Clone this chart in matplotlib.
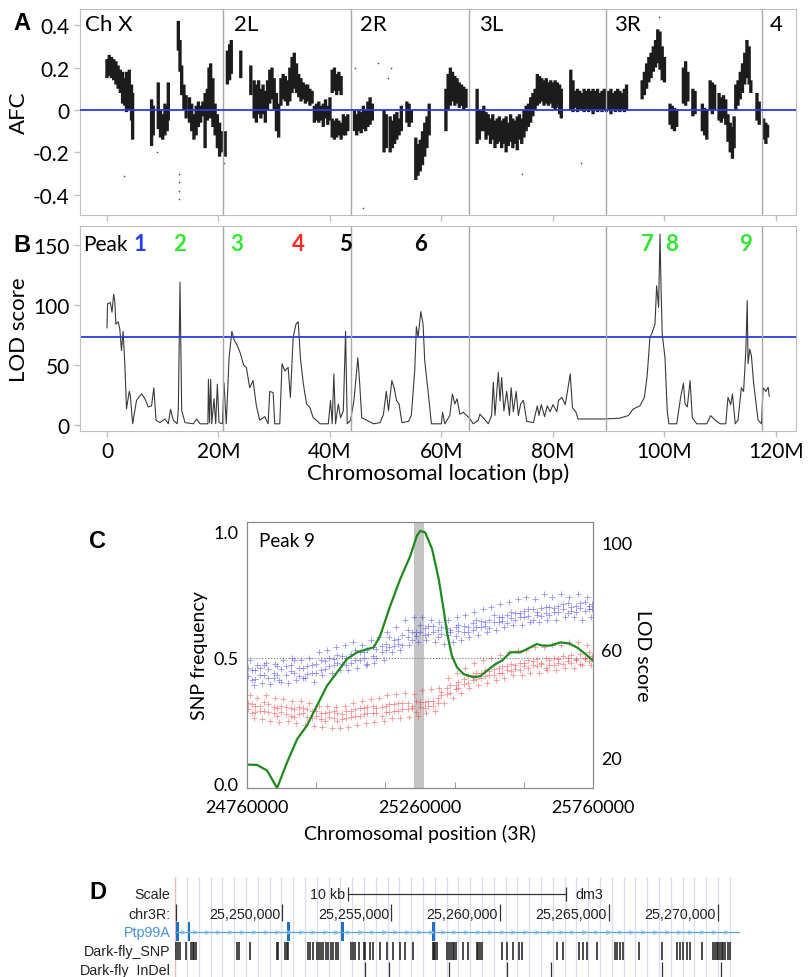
import numpy as np
import matplotlib.pyplot as plt
from matplotlib.transforms import blended_transform_factory

plt.rcParams['font.family'] = ['Lato', 'DejaVu Sans']

# ---------------- Panel A: allele frequency change (position in Mb, AFC range) ----------------
afc_pos = [0.0, 0.4, 0.8, 1.2, 1.6, 2.0, 2.4, 2.8, 3.2, 3.5, 4.0, 4.4, 4.6, 8.0, 8.3, 9.2, 9.6, 10.0, 10.4, 10.8,
           11.0, 12.8, 13.1, 13.4, 13.8, 14.2, 14.8, 15.2, 15.6, 16.0, 16.4, 16.8, 17.2, 17.6, 18.0, 18.3, 18.6,
           19.0, 19.4, 19.8, 20.2, 20.5,
           21.2, 21.6, 22.0, 22.3, 24.0, 25.8, 26.4, 26.8, 27.2, 27.6, 28.0, 28.4, 28.8, 29.2, 29.6, 30.0, 30.4,
           30.8, 31.2, 31.6, 32.0, 32.4, 32.8, 33.2, 33.6, 34.0, 34.4, 34.8, 35.2, 35.6, 36.0, 36.4, 36.8, 37.2,
           37.6, 38.0, 38.4, 38.8, 39.2, 39.6, 40.0, 40.4, 40.4, 40.8, 40.8, 41.2, 41.2, 41.6, 41.6, 42.0, 42.0,
           42.4, 42.8, 43.2,
           44.4, 44.8, 45.2, 45.6, 46.0, 46.4, 46.8, 47.2, 47.6, 49.7, 50.1, 50.8, 51.2, 51.6, 52.0, 52.4, 52.8,
           53.8, 54.2, 54.6, 55.4, 55.8, 56.2, 56.6, 57.0, 57.4, 57.8, 60.8, 61.2, 61.6, 62.0, 62.4, 62.8, 63.2,
           63.6, 64.0, 64.4,
           66.4, 66.8, 67.2, 67.6, 68.0, 68.4, 68.8, 69.2, 69.6, 70.0, 70.4, 70.8, 71.2, 71.6, 72.0, 72.4, 72.8,
           73.2, 73.6, 74.0, 74.4, 74.8, 75.2, 75.6, 76.0, 76.4, 76.8, 77.2, 77.6, 78.0, 78.4, 78.8, 79.2, 79.6,
           80.0, 80.4, 80.8, 81.2, 81.5, 83.2, 83.6, 84.0, 84.4, 84.8, 85.2, 85.6, 86.0, 86.4, 86.8, 87.2, 87.6,
           88.0, 88.4, 88.8, 89.2,
           89.6, 90.0, 90.4, 90.8, 91.2, 91.6, 92.0, 92.4, 92.8, 93.2, 96.0, 96.4, 96.8, 97.2, 97.6, 98.0, 98.4,
           98.8, 99.2, 99.6, 100.0, 101.0, 101.4, 101.8, 102.2, 103.4, 103.8, 104.2, 105.1, 105.5, 106.8, 107.2,
           107.6, 108.2, 108.6, 109.0, 109.8, 110.2, 110.6, 111.0, 111.4, 111.8, 112.2, 112.5, 112.8, 113.2,
           113.6, 114.0, 114.4, 114.8, 115.2, 115.5, 116.6, 117.0,
           117.8, 118.2, 118.5]
afc_lo = [0.15, 0.16, 0.15, 0.14, 0.12, 0.10, 0.08, 0.03, 0.02, -0.01, 0.0, -0.05, -0.14, -0.17, -0.12, -0.09,
          -0.13, -0.14, -0.12, -0.10, -0.05, 0.28, 0.18, 0.07, 0.0, -0.04, -0.06, -0.10, -0.14, -0.12, -0.08,
          -0.06, -0.03, -0.18, -0.05, 0.0, -0.04, -0.08, -0.12, -0.18, -0.22, -0.20,
          -0.22, 0.12, 0.14, 0.17, 0.15, 0.07, -0.04, -0.06, -0.02, -0.04, -0.02, -0.06, 0.0, 0.03, 0.05, 0.0,
          -0.10, -0.13, 0.02, 0.05, 0.04, 0.02, 0.04, 0.08, 0.10, 0.08, 0.06, 0.04, 0.05, 0.03, 0.04, 0.02,
          0.03, -0.06, -0.05, -0.06, -0.05, -0.08, -0.04, -0.07, -0.05, 0.08, -0.13, 0.09, -0.14, 0.07, -0.13,
          0.09, -0.12, 0.07, -0.14, -0.12, -0.12, -0.10,
          -0.10, -0.12, -0.10, -0.11, -0.09, -0.10, -0.08, -0.07, -0.05, -0.20, -0.18, -0.20, -0.18, -0.16,
          -0.14, -0.12, -0.10, -0.06, -0.08, -0.06, -0.33, -0.31, -0.29, -0.26, -0.22, -0.18, -0.12, -0.10,
          0.0, 0.02, 0.04, 0.02, 0.03, 0.01, 0.02, 0.0, 0.01,
          -0.16, -0.14, -0.10, -0.10, -0.14, -0.12, -0.16, -0.14, -0.18, -0.16, -0.15, -0.18, -0.16, -0.20,
          -0.17, -0.15, -0.18, -0.16, -0.19, -0.14, -0.16, -0.13, -0.10, -0.08, -0.06, -0.03, 0.0, 0.02, 0.03,
          0.04, 0.02, 0.03, 0.02, 0.03, 0.01, 0.0, 0.01, -0.02, -0.04, 0.0, -0.01, 0.01, -0.01, 0.0, 0.0, -0.01,
          0.0, -0.01, 0.0, -0.02, 0.0, -0.01, 0.0, -0.01, 0.0,
          -0.01, 0.0, -0.02, 0.0, -0.01, 0.0, -0.01, 0.0, -0.01, 0.0, 0.05, 0.07, 0.10, 0.13, 0.15, 0.18, 0.20,
          0.22, 0.19, 0.14, 0.13, -0.07, -0.09, -0.10, -0.08, 0.03, 0.02, 0.04, -0.03, -0.02, -0.10, -0.12,
          -0.14, 0.0, -0.02, 0.0, -0.05, -0.06, -0.04, -0.07, -0.15, -0.20, -0.23, -0.18, 0.0, 0.02, 0.05,
          0.08, 0.12, 0.15, 0.12, 0.08, -0.05, -0.07,
          -0.14, -0.16, -0.13]
afc_hi = [0.24, 0.26, 0.25, 0.24, 0.23, 0.21, 0.19, 0.18, 0.15, 0.18, 0.19, 0.12, 0.08, 0.05, 0.02, 0.13, 0.0,
          -0.02, 0.03, 0.02, 0.13, 0.42, 0.33, 0.21, 0.12, 0.07, 0.06, 0.03, -0.02, 0.02, 0.04, 0.02, 0.04,
          0.08, 0.10, 0.20, 0.22, 0.15, 0.03, -0.02, -0.06, -0.10,
          -0.10, 0.28, 0.31, 0.33, 0.28, 0.21, 0.14, 0.12, 0.14, 0.10, 0.12, 0.09, 0.14, 0.19, 0.20, 0.15,
          0.08, 0.03, 0.15, 0.17, 0.16, 0.14, 0.20, 0.25, 0.27, 0.22, 0.17, 0.15, 0.13, 0.12, 0.12, 0.10, 0.09,
          0.02, 0.03, 0.04, 0.02, 0.03, 0.05, 0.02, 0.06, 0.19, -0.04, 0.20, -0.05, 0.17, -0.04, 0.18, -0.05,
          0.16, -0.06, -0.02, -0.03, -0.02,
          0.0, -0.02, 0.0, -0.01, 0.02, 0.0, 0.04, 0.06, 0.03, 0.0, -0.02, -0.03, -0.05, -0.02, -0.01, -0.04,
          0.02, 0.04, 0.03, 0.0, -0.13, -0.16, -0.14, -0.10, -0.06, -0.03, 0.03, 0.10, 0.17, 0.20, 0.18, 0.16,
          0.15, 0.13, 0.12, 0.11, 0.10,
          0.10, 0.0, 0.0, 0.02, -0.01, -0.02, -0.04, -0.02, -0.05, -0.04, -0.03, -0.05, -0.04, -0.03, -0.06,
          -0.02, -0.04, -0.05, -0.03, -0.02, -0.04, 0.0, 0.02, 0.03, 0.06, 0.08, 0.10, 0.17, 0.16, 0.15, 0.14,
          0.15, 0.13, 0.14, 0.13, 0.14, 0.13, 0.12, 0.10, 0.19, 0.14, 0.09, 0.10, 0.09, 0.08, 0.10, 0.09, 0.10,
          0.09, 0.10, 0.09, 0.10, 0.08, 0.09, 0.10,
          0.09, 0.09, 0.10, 0.08, 0.09, 0.10, 0.09, 0.08, 0.10, 0.12, 0.14, 0.18, 0.22, 0.25, 0.27, 0.30, 0.33,
          0.38, 0.37, 0.30, 0.25, 0.03, 0.02, 0.01, 0.0, 0.20, 0.23, 0.18, 0.10, 0.09, 0.03, 0.01, 0.0, 0.14,
          0.13, 0.12, 0.08, 0.06, 0.07, 0.05, -0.02, -0.06, -0.08, -0.03, 0.12, 0.14, 0.18, 0.22, 0.27, 0.33,
          0.30, 0.14, 0.08, 0.04,
          -0.04, -0.06, -0.07]
afc_dot_x = [3.1, 8.9, 12.9, 12.9, 12.9, 12.95, 21.0, 44.5, 46.0, 48.7, 50.5, 51.0, 74.5, 85.0, 99.0]
afc_dot_y = [-0.31, -0.20, -0.30, -0.34, -0.38, -0.42, -0.25, 0.20, -0.46, 0.22, 0.15, 0.20, -0.30, -0.25, 0.44]

chrom_bounds = [20.75, 43.8, 65.0, 89.5, 117.5]
chrom_names = ['Ch X', '2L', '2R', '3L', '3R', '4']
chrom_label_x = [-3.9, 22.8, 45.4, 66.8, 91.0, 118.9]

# ---------------- Panel B: LOD score (position in Mb) ----------------
lod_pos = [0.0, 0.1, 0.6, 0.9, 1.2, 1.4, 1.6, 2.0, 2.3, 2.6, 2.9, 3.2, 3.5, 4.0, 4.2, 4.6, 5.3, 6.2, 6.8, 7.4,
           8.0, 8.4, 8.8, 9.5, 10.4, 11.0, 11.4, 11.9, 12.6, 12.8, 13.1, 13.4, 14.0, 15.5, 16.1, 16.7, 18.1,
           18.2, 18.4, 18.6, 18.8, 19.2, 19.5, 19.8, 20.1, 20.7, 21.0, 21.4, 21.9, 22.4, 22.8, 23.3, 23.9, 24.5,
           25.0, 25.6, 26.2, 26.8, 27.4, 28.3, 28.9, 29.2, 29.8, 30.1, 31.0, 31.4, 31.9, 32.5, 32.9, 33.4, 33.9,
           34.3, 34.7, 35.2, 35.8, 36.4, 37.0, 37.6, 38.2, 39.7, 40.1, 40.4, 40.7, 41.0, 41.5, 41.9, 42.4, 42.8,
           43.1, 43.7, 44.3, 45.0, 45.3, 45.7, 46.6, 47.8, 49.0, 49.6, 50.1, 50.5, 51.1, 51.5, 51.95, 52.4,
           52.9, 54.1, 54.6, 55.2, 55.5, 55.8, 56.3, 56.7, 57.0, 57.6, 58.2, 59.7, 60.0, 60.2, 60.6, 61.5,
           61.96, 62.4, 62.8, 63.3, 63.9, 64.99, 65.7, 66.6, 66.9, 67.5, 68.4, 69.0, 69.3, 69.6, 70.2, 70.5,
           70.8, 71.2, 71.7, 72.2, 72.5, 72.9, 73.4, 73.8, 74.2, 74.7, 75.3, 76.5, 77.2, 77.5, 77.9, 78.5,
           78.98, 79.5, 80.0, 80.7, 81.0, 81.6, 82.2, 82.6, 83.1, 83.5, 84.1, 84.5, 86.0, 89.0, 91.9, 93.5,
           94.4, 95.6, 96.4, 96.9, 97.4, 97.8, 98.3, 98.6, 98.95, 99.2, 99.4, 99.6, 100.1, 100.5, 100.8, 102.2,
           102.9, 103.4, 103.7, 104.1, 104.6, 105.0, 105.8, 107.6, 108.3, 109.1, 110.0, 111.0, 111.4, 111.9,
           112.2, 112.7, 113.2, 113.8, 114.2, 114.6, 114.85, 115.0, 115.3, 115.6, 116.0, 116.8, 117.4, 117.7,
           118.2, 118.6, 118.8]
lod_val = [81, 101, 102, 94, 109, 103, 84, 86, 80, 62, 78, 51, 13.5, 28, 24, 1, 20.5, 26, 22, 15,
           16, 31, 4, 2, 5, 1, 13, 4, 1, 14, 119, 12, 2, 1, 5, 1, 1,
           38, 2, 38, 1, 22, 1, 34, 2, 1, 35, 1, 56, 78, 71, 67, 60, 50,
           48, 31, 37, 16, 4, 7, 1, 28, 27, 1, 1, 51, 45, 48, 23, 73, 84,
           86, 56, 35, 17.5, 14.5, 6, 4, 1, 1, 20.5, 1, 42.5, 1, 17.5, 6, 12, 78,
           1, 4, 20.5, 56, 37, 6, 4, 1, 2, 9, 28, 12, 37, 31, 20.5, 17.5,
           2, 3, 8, 45, 82, 73, 94.5, 84, 53.5, 28, 1, 1, 1, 10.6, 1, 8,
           25.8, 17.5, 21.8, 9, 10.6, 6, 1, 4, 9, 6, 1, 8, 35.6, 8, 43.9, 20,
           39.7, 11.7, 28, 8, 31, 11, 28, 7.8, 17.5, 20.5, 3, 2, 16, 8, 17, 7,
           16, 11, 17, 11, 20.5, 23, 17, 28, 42.5, 14.4, 11, 5, 5, 5, 5.6, 7.8,
           13.3, 16, 23, 41, 73, 77, 84, 116, 98, 159, 112, 76, 56, 11.7, 1, 1,
           23, 34.7, 17.5, 15, 37, 6, 1, 1, 7.8, 4, 1, 1, 23, 17,
           25.8, 1, 4, 31, 28, 62, 103.6, 51, 63.3, 57.8, 34.7, 4, 1, 31,
           28, 31.5, 24]
lod_threshold = 73.5
peak_names = ['1', '2', '3', '4', '5', '6', '7', '8', '9']
peak_x = [5.9, 13.1, 23.3, 34.3, 42.7, 56.3, 96.9, 101.2, 114.6]
peak_colors = ['#2a3cff', '#33e633', '#33e633', '#ff2a2a', '#000000', '#000000', '#33e633', '#33e633', '#33e633']
mb_ticks = [0, 20, 40, 60, 80, 100, 120]
mb_labels = ['0', '20M', '40M', '60M', '80M', '100M', '120M']

# ---------------- Panel C: Peak 9 close-up (kb offset from 24,760,000) ----------------
snp_kb = [3, 14, 22, 37, 48, 61, 77, 86, 99, 112, 127, 136, 151, 162, 174, 189, 198, 214, 226, 237, 252, 261,
          276, 287, 301, 312, 327, 339, 348, 364, 373, 389, 402, 411, 426, 437, 449, 464, 476, 487, 501, 514,
          524, 539, 551, 562, 577, 586, 603, 611, 626, 638, 652, 661, 677, 689, 698, 713, 727, 736, 751, 763,
          774, 789, 802, 812, 826, 837, 851, 864, 873, 888, 899, 914, 927, 936, 952, 961, 976, 989, 998]
blue_y1 = [0.46, 0.41, 0.45, 0.43, 0.47, 0.42, 0.44, 0.465, 0.405, 0.465, 0.445, 0.49, 0.425, 0.46, 0.435, 0.47,
           0.44, 0.49, 0.455, 0.5, 0.47, 0.51, 0.475, 0.5, 0.48, 0.53, 0.49, 0.52, 0.475, 0.54, 0.5, 0.545,
           0.53, 0.58, 0.545, 0.575, 0.55, 0.61, 0.57, 0.6, 0.63, 0.59, 0.625, 0.6, 0.58, 0.62, 0.59, 0.61,
           0.585, 0.63, 0.6, 0.62, 0.61, 0.65, 0.62, 0.64, 0.615, 0.67, 0.64, 0.66, 0.635, 0.68, 0.65, 0.675,
           0.66, 0.69, 0.65, 0.68, 0.665, 0.7, 0.67, 0.695, 0.68, 0.71, 0.675, 0.7, 0.68, 0.715, 0.685, 0.705,
           0.69]
blue_y2 = [0.425, 0.45, 0.415, 0.46, 0.43, 0.455, 0.42, 0.43, 0.455, 0.43, 0.47, 0.44, 0.46, 0.42, 0.465, 0.44,
           0.475, 0.45, 0.485, 0.465, 0.495, 0.48, 0.505, 0.47, 0.515, 0.49, 0.52, 0.5, 0.53, 0.505, 0.535,
           0.52, 0.555, 0.54, 0.57, 0.555, 0.59, 0.58, 0.6, 0.585, 0.6, 0.615, 0.595, 0.625, 0.61, 0.595, 0.615,
           0.6, 0.62, 0.605, 0.625, 0.6, 0.635, 0.62, 0.645, 0.625, 0.65, 0.64, 0.66, 0.645, 0.67, 0.655, 0.675,
           0.66, 0.685, 0.665, 0.69, 0.67, 0.695, 0.675, 0.7, 0.68, 0.705, 0.69, 0.715, 0.685, 0.705, 0.695,
           0.72, 0.69, 0.71]
red_y1 = [0.32, 0.28, 0.31, 0.29, 0.325, 0.285, 0.305, 0.27, 0.31, 0.275, 0.3, 0.265, 0.305, 0.28, 0.295, 0.26,
          0.29, 0.255, 0.28, 0.265, 0.29, 0.25, 0.275, 0.26, 0.29, 0.27, 0.3, 0.275, 0.305, 0.28, 0.3, 0.27,
          0.31, 0.285, 0.315, 0.29, 0.32, 0.295, 0.31, 0.285, 0.325, 0.3, 0.33, 0.31, 0.34, 0.35, 0.38, 0.36,
          0.39, 0.38, 0.415, 0.4, 0.43, 0.415, 0.44, 0.425, 0.445, 0.43, 0.46, 0.44, 0.465, 0.445, 0.47, 0.45,
          0.48, 0.46, 0.485, 0.465, 0.48, 0.46, 0.49, 0.47, 0.495, 0.475, 0.5, 0.48, 0.495, 0.475, 0.5, 0.485,
          0.505]
red_y2 = [0.295, 0.315, 0.285, 0.31, 0.29, 0.315, 0.28, 0.3, 0.285, 0.305, 0.27, 0.295, 0.275, 0.3, 0.265, 0.29,
          0.27, 0.28, 0.25, 0.285, 0.26, 0.28, 0.255, 0.29, 0.265, 0.295, 0.27, 0.3, 0.28, 0.31, 0.28, 0.305,
          0.285, 0.315, 0.29, 0.32, 0.295, 0.32, 0.3, 0.33, 0.305, 0.325, 0.31, 0.33, 0.32, 0.365, 0.355, 0.39,
          0.375, 0.405, 0.395, 0.425, 0.41, 0.44, 0.42, 0.45, 0.43, 0.455, 0.44, 0.465, 0.45, 0.475, 0.455,
          0.48, 0.465, 0.49, 0.47, 0.495, 0.475, 0.5, 0.47, 0.5, 0.48, 0.505, 0.485, 0.51, 0.49, 0.515, 0.495,
          0.52, 0.5]
snp_kb2 = [8, 19, 30, 44, 55, 67, 82, 93, 105, 119, 131, 142, 157, 168, 180, 194, 207, 218, 231, 245, 256, 268,
           282, 293, 307, 318, 332, 343, 357, 368, 381, 395, 406, 418, 432, 443, 457, 469, 482, 493, 507, 518,
           532, 544, 556, 568, 582, 594, 607, 619, 631, 643, 657, 668, 682, 694, 706, 719, 731, 743, 757, 768,
           782, 794, 807, 818, 832, 843, 857, 868, 881, 893, 907, 918, 932, 944, 957, 968, 982, 993]
blue_y3 = [0.49, 0.39, 0.47, 0.40, 0.48, 0.395, 0.475, 0.41, 0.49, 0.40, 0.5, 0.41, 0.49, 0.42, 0.5, 0.405,
           0.52, 0.43, 0.53, 0.44, 0.54, 0.45, 0.55, 0.45, 0.56, 0.46, 0.55, 0.47, 0.57, 0.48, 0.58, 0.49,
           0.6, 0.52, 0.62, 0.53, 0.65, 0.55, 0.66, 0.56, 0.66, 0.57, 0.65, 0.56, 0.64, 0.555, 0.65, 0.56,
           0.66, 0.57, 0.67, 0.58, 0.68, 0.59, 0.69, 0.6, 0.7, 0.61, 0.71, 0.62, 0.72, 0.63, 0.73, 0.63,
           0.74, 0.64, 0.73, 0.64, 0.75, 0.65, 0.74, 0.65, 0.75, 0.66, 0.74, 0.66, 0.75, 0.65, 0.74, 0.66]
red_y3 = [0.35, 0.26, 0.34, 0.255, 0.35, 0.25, 0.34, 0.245, 0.335, 0.25, 0.33, 0.24, 0.33, 0.235, 0.32, 0.23,
          0.31, 0.225, 0.31, 0.22, 0.305, 0.22, 0.31, 0.225, 0.32, 0.235, 0.33, 0.24, 0.335, 0.245, 0.34, 0.25,
          0.35, 0.26, 0.355, 0.26, 0.36, 0.265, 0.355, 0.27, 0.37, 0.28, 0.375, 0.29, 0.38, 0.32, 0.42, 0.34,
          0.44, 0.36, 0.46, 0.38, 0.48, 0.39, 0.49, 0.4, 0.5, 0.41, 0.51, 0.42, 0.52, 0.43, 0.53, 0.43,
          0.53, 0.44, 0.54, 0.44, 0.54, 0.45, 0.55, 0.45, 0.55, 0.46, 0.56, 0.46, 0.56, 0.47, 0.55, 0.47]
green_kb = [0, 29, 58, 87, 116, 145, 173, 202, 231, 260, 289, 318, 347, 366, 385, 414, 443, 472, 491, 501, 515,
            535, 554, 568, 578, 592, 607, 626, 655, 674, 694, 718, 737, 761, 790, 809, 838, 853, 877, 906, 930,
            954, 978, 1000]
green_lod = [17.3, 17.2, 15.1, 8.6, 18.2, 26.8, 31.8, 39.2, 46.6, 51.6, 56.6, 59.1, 60.3, 60.9, 65.3, 76.4,
             86.4, 95.0, 102.5, 104.3, 103.7, 97.5, 86.4, 75.2, 66.5, 57.8, 53.5, 51.0, 49.8, 50.2, 52.3, 54.7,
             56.0, 59.1, 59.1, 60.3, 62.2, 61.6, 61.6, 62.8, 62.4, 60.9, 58.5, 56.0]
c_start = 24760000
c_band = (25243000, 25272000)

# ---------------- Panel D: genome browser view (bp on chr3R) ----------------
d_range = (25245090, 25271010)
exon_start = [25245124, 25245702, 25250216, 25252706, 25256894]
exon_end = [25245262, 25245794, 25250367, 25252844, 25257004]
snp_bp = [25245124, 25245216, 25245321, 25245596, 25245826, 25245904, 25245977, 25246055, 25247922, 25248014,
          25248532, 25249757, 25249830, 25250138, 25250216, 25250289, 25251179, 25251284, 25251436, 25251592,
          25251711, 25251803, 25251894, 25252018, 25252124, 25252234, 25252353, 25252463, 25252582, 25253151,
          25253243, 25253349, 25253546, 25253761, 25253821, 25254037, 25254188, 25254495, 25254803, 25255105,
          25255413, 25255642, 25256023, 25256913, 25256972, 25257032, 25257096, 25257582, 25257674, 25257752,
          25257830, 25257903, 25257981, 25258316, 25258546, 25258931, 25259004, 25259082, 25259160, 25260078,
          25260335, 25260610, 25260885, 25260995, 25262601, 25262903, 25263637, 25263821, 25263977, 25264435,
          25265275, 25265353, 25265504, 25265655, 25266389, 25267417, 25268105, 25268256, 25268408, 25268564,
          25268715, 25269252, 25269784, 25269862, 25269940, 25270013, 25270091, 25270169, 25270243, 25270320,
          25270472, 25270550]
indel_bp = [25253807, 25254922, 25257660, 25260335, 25262325, 25267417, 25270137]
coord_ticks = [25250000, 25255000, 25260000, 25265000, 25270000]
scale_bar = (25253028, 25263028)

# ---------------- figure ----------------
W, H = 808, 978
fig = plt.figure(figsize=(W / 100, H / 100), dpi=100)


def px_axes(l, t, r, b):
    return fig.add_axes([l / W, 1 - b / H, (r - l) / W, (b - t) / H])


frame_gray = '#bfbfbf'
letter_font = dict(fontsize=17, fontweight='bold', family=['Liberation Sans', 'DejaVu Sans'])

# Panel A
axa = px_axes(80, 10, 796, 216)
axa.vlines(afc_pos, afc_lo, afc_hi, color='#1c1c1c', lw=2.4, snap=False)
axa.scatter(afc_dot_x, afc_dot_y, s=1.5, color='#555555', lw=0)
axa.axhline(0, color='#2a3ce0', lw=1.3, zorder=5)
for b in chrom_bounds:
    axa.axvline(b, color='#a8a8a8', lw=1)
for name, x in zip(chrom_names, chrom_label_x):
    axa.text(x, 0.405, name, fontsize=16, va='center', ha='left')
axa.set_xlim(-4.84, 123.6)
axa.set_ylim(-0.495, 0.476)
axa.set_yticks([-0.4, -0.2, 0, 0.2, 0.4])
axa.set_yticklabels(['-0.4', '-0.2', '0', '0.2', '0.4'])
axa.set_xticks(mb_ticks)
axa.set_xticklabels([])
axa.set_ylabel('AFC', fontsize=16, labelpad=3)

# Panel B
axb = px_axes(80, 227, 796, 432)
axb.plot(lod_pos, lod_val, color='#3a3a3a', lw=0.8)
axb.axhline(lod_threshold, color='#2a3ce0', lw=1.3)
for b in chrom_bounds:
    axb.axvline(b, color='#a8a8a8', lw=1)
axb.text(-4.3, 151, 'Peak', fontsize=15, va='center', ha='left')
for name, x, c in zip(peak_names, peak_x, peak_colors):
    axb.text(x, 151, name, fontsize=16, va='center', ha='center', color=c, fontweight='bold')
axb.set_xlim(-4.84, 123.6)
axb.set_ylim(-5, 165.8)
axb.set_yticks([0, 50, 100, 150])
axb.set_xticks(mb_ticks)
axb.set_xticklabels(mb_labels)
axb.set_xlabel('Chromosomal location (bp)', fontsize=16, labelpad=1)
axb.set_ylabel('LOD score', fontsize=16, labelpad=3)

for ax in (axa, axb):
    for s in ax.spines.values():
        s.set_color(frame_gray)
    ax.tick_params(colors=frame_gray, labelcolor='black', labelsize=15, length=4, width=1)

# Panel C
axc = px_axes(247, 523, 593, 789)
cx = [c_start + k * 1000 for k in snp_kb]
cx2 = [c_start + k * 1000 for k in snp_kb2]
axc.axvspan(c_band[0], c_band[1], color='#c4c4c4', lw=0, zorder=0)
axc.axhline(0.5, color='#777777', lw=0.8, ls=':', zorder=1)
dot_style = dict(marker='+', s=13, linewidths=0.6, alpha=0.55, zorder=2)
for xs, ys in ((cx, blue_y1), (cx, blue_y2), (cx2, blue_y3)):
    axc.scatter(xs, ys, color='#3b3bff', **dot_style)
for xs, ys in ((cx, red_y1), (cx, red_y2), (cx2, red_y3)):
    axc.scatter(xs, ys, color='#ff3b3b', **dot_style)
axc.set_xlim(c_start, c_start + 1000000)
axc.set_ylim(-0.016, 1.036)
axc.set_yticks([0, 0.5, 1.0])
axc.set_yticklabels(['0.0', '0.5', '1.0'])
axc.set_xticks([24760000, 25260000, 25760000])
axc.set_xticklabels(['24760000', '25260000', '25760000'])
axc.set_xticks([24960000, 25160000, 25360000, 25560000], minor=True)
axc.tick_params(axis='x', which='major', length=0, labelsize=13, pad=8)
axc.tick_params(axis='x', which='minor', direction='in', length=4, color='#888888')
axc.tick_params(axis='y', length=0, labelsize=13, pad=6)
axc.text(0.035, 0.93, 'Peak 9', transform=axc.transAxes, fontsize=13.5, va='center')
axc.set_xlabel('Chromosomal position (3R)', fontsize=14, labelpad=6)
axc.set_ylabel('SNP frequency', fontsize=14, labelpad=4)

axc2 = axc.twinx()
axc2.plot([c_start + k * 1000 for k in green_kb], green_lod, color='#1e8a1e', lw=1.6)
axc2.set_ylim(8.6, 107.6)
axc2.set_yticks([20, 60, 100])
axc2.tick_params(axis='y', length=0, labelsize=13, pad=6)
axc2.set_ylabel('LOD score', fontsize=14, rotation=270, labelpad=13)
for ax in (axc, axc2):
    for s in ax.spines.values():
        s.set_color('#8a8a8a')

# Panel D
axd = px_axes(175, 878, 740, 978)
axd.set_xlim(*d_range)
axd.set_ylim(100, 0)
axd.axis('off')
bp_per_px = (d_range[1] - d_range[0]) / 565
for g in np.arange(d_range[0] + 12 * bp_per_px, d_range[1], 11.8 * bp_per_px):
    axd.axvline(g, color='#dcdcf2', lw=0.9, zorder=0)
axd.axvline(d_range[0] + 20, color='#f2b8b8', lw=1, zorder=0)

tr = blended_transform_factory(axd.transAxes, axd.transData)
dfont = dict(family=['Liberation Sans', 'DejaVu Sans'], fontsize=10.3)
row_labels = ['Scale', 'chr3R:', 'Ptp99A', 'Dark-fly_SNP', 'Dark-fly_InDel']
row_y = [17, 37, 55, 74, 93]
for lab, y in zip(row_labels, row_y):
    axd.text(-0.008, y, lab, transform=tr, ha='right', va='center', clip_on=False,
             color='#4a90d9' if lab == 'Ptp99A' else '#222222', **dfont)

# scale bar
axd.plot(scale_bar, [17, 17], color='#333333', lw=0.9)
axd.vlines(scale_bar, 10, 24, color='#333333', lw=0.9)
axd.text(scale_bar[0] - 3 * bp_per_px, 17, '10 kb', ha='right', va='center', color='#222222', **dfont)
axd.text(scale_bar[1] + 9 * bp_per_px, 17, 'dm3', ha='left', va='center', color='#222222', **dfont)

# coordinates
axd.vlines([d_range[0] + 30] + coord_ticks, 27, 44, color='#333333', lw=0.9)
for t in coord_ticks:
    axd.text(t - 2 * bp_per_px, 37, f'{t:,}', ha='right', va='center', color='#222222', **dfont)

# gene model
axd.plot([d_range[0], d_range[0] + 565 * bp_per_px], [55, 55], color='#5aa2e2', lw=0.9)
chev = np.arange(d_range[0] + 8 * bp_per_px, d_range[1] - 4 * bp_per_px, 11.8 * bp_per_px)
axd.plot(chev, [55] * len(chev), ls='none', marker='$>$', ms=3.6, mew=0.2, color='#8cc0ee')
for s, e in zip(exon_start, exon_end):
    axd.fill_between([s, e], 45, 64, color='#1f72c4', lw=0)

# variant tracks
axd.vlines(snp_bp, 65, 83, color='#1a1a1a', lw=1.1)
axd.vlines(indel_bp, 85, 100, color='#333333', lw=0.9)

# panel letters
fig.text(13 / W, 1 - 30 / H, 'A', va='baseline', **letter_font)
fig.text(13 / W, 1 - 252 / H, 'B', va='baseline', **letter_font)
fig.text(89 / W, 1 - 548 / H, 'C', va='baseline', **letter_font)
fig.text(89 / W, 1 - 899 / H, 'D', va='baseline', **letter_font)

fig.savefig('out.png', dpi=100)
